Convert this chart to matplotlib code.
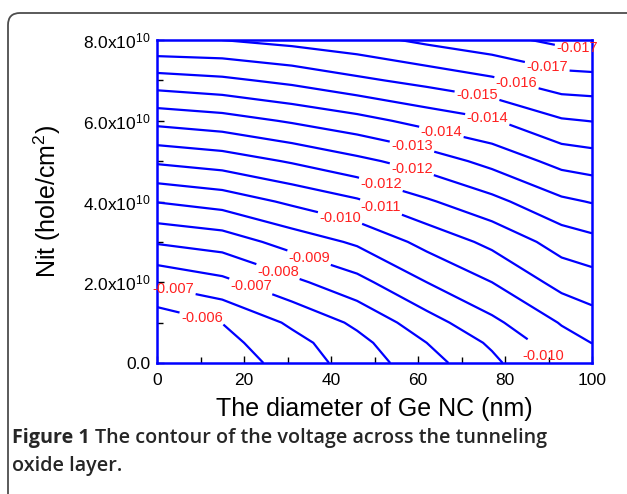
import matplotlib
matplotlib.use("Agg")
import matplotlib.pyplot as plt
from matplotlib.patches import FancyBboxPatch
from matplotlib.transforms import IdentityTransform
from matplotlib.ticker import MultipleLocator

plt.rcParams['font.family'] = ['Liberation Sans', 'DejaVu Sans']
plt.rcParams['mathtext.fontset'] = 'custom'
plt.rcParams['mathtext.rm'] = 'Liberation Sans'
plt.rcParams['mathtext.it'] = 'Liberation Sans:italic'
plt.rcParams['mathtext.bf'] = 'Liberation Sans:bold'

# Ge NC diameter (nm) and interface trap density Nit (hole/cm^2)
diameter = [0, 15, 31, 46, 62, 77, 93, 100]
nit = [0.0, 0.5e10, 1e10, 2e10, 3e10, 4e10, 5e10, 6e10, 7e10, 8e10]

# voltage across the tunneling oxide (V), one row per Nit value
voltage = [
    [-0.00467, -0.00558, -0.00629, -0.00701, -0.00783, -0.00864, -0.00968, -0.00992],
    [-0.00495, -0.00579, -0.00646, -0.00719, -0.00810, -0.00891, -0.00992, -0.01021],
    [-0.00548, -0.00601, -0.00682, -0.00754, -0.00851, -0.00934, -0.01025, -0.01060],
    [-0.00683, -0.00722, -0.00793, -0.00858, -0.00950, -0.01020, -0.01114, -0.01130],
    [-0.00817, -0.00841, -0.00909, -0.00961, -0.01042, -0.01108, -0.01189, -0.01210],
    [-0.00953, -0.00979, -0.01033, -0.01080, -0.01151, -0.01210, -0.01287, -0.01304],
    [-0.01101, -0.01123, -0.01167, -0.01213, -0.01262, -0.01322, -0.01393, -0.01406],
    [-0.01250, -0.01270, -0.01308, -0.01345, -0.01395, -0.01433, -0.01503, -0.01512],
    [-0.01409, -0.01426, -0.01457, -0.01496, -0.01532, -0.01568, -0.01620, -0.01624],
    [-0.01577, -0.01580, -0.01602, -0.01626, -0.01665, -0.01697, -0.01738, -0.01749],
]

levels = [-0.0172, -0.0165, -0.0158, -0.0151, -0.0144, -0.0137, -0.0130, -0.0123, -0.0116,
          -0.0109, -0.0102, -0.0095, -0.0088, -0.0081, -0.0074, -0.0067, -0.0060]
level_text = ['-0.017', '-0.017', '-0.016', '-0.015', '-0.014', '-0.014', '-0.013', '-0.012', '-0.012',
              '-0.011', '-0.010', '-0.010', '-0.009', '-0.008', '-0.007', '-0.007', '-0.006']

# where the labels sit (diameter, Nit/1e10)
label_x = [96.6, 89.7, 82.8, 73.6, 75.9, 65.5, 58.6, 58.6, 51.7, 51.7, 42.1, 89.7, 35.4, 27.8, 21.6, 3.9, 10.3]
label_y = [7.76, 7.34, 7.01, 6.64, 6.00, 5.78, 5.35, 4.81, 4.51, 3.92, 3.60, 0.26, 2.75, 2.26, 1.91, 1.91, 1.12]

xticks = [0, 20, 40, 60, 80, 100]
yticks = [0, 2e10, 4e10, 6e10, 8e10]
ytick_text = ['0.0', '2.0x10$^{10}$', '4.0x10$^{10}$', '6.0x10$^{10}$', '8.0x10$^{10}$']

fig = plt.figure(figsize=(6.27, 4.94), dpi=100)

# rounded frame around the figure + caption
frame = FancyBboxPatch((8, -40), 700, 521, boxstyle='round,pad=0,rounding_size=12',
                       transform=IdentityTransform(), fill=False, ec='#4d4d4d', lw=1.3)
fig.add_artist(frame)

ax = fig.add_axes([0.2504, 0.2652, 0.6938, 0.6538])
cs = ax.contour(diameter, nit, voltage, levels=levels, colors='#0000ff',
                linewidths=1.6, linestyles='solid')
ax.clabel(cs, fmt=dict(zip(levels, level_text)), inline=True, inline_spacing=2,
          fontsize=10.5, colors='#ff2020',
          manual=[(x, y * 1e10) for x, y in zip(label_x, label_y)])
for t in cs.labelTexts:
    t.set_rotation(0)
    t.set_clip_on(False)

ax.set_xlim(0, 100)
ax.set_ylim(0, 8e10)
ax.set_xticks(xticks)
ax.set_xticklabels([str(v) for v in xticks])
ax.xaxis.set_minor_locator(MultipleLocator(10))
ax.set_yticks(yticks)
ax.set_yticklabels(ytick_text)
ax.yaxis.set_minor_locator(MultipleLocator(1e10))
ax.tick_params(which='both', direction='in', color='black', width=1, labelsize=12.5)
ax.tick_params(which='major', length=5)
ax.tick_params(which='minor', length=4)
ax.tick_params(axis='x', pad=7)
ax.tick_params(axis='y', pad=5)
for sp in ax.spines.values():
    sp.set_color('#0000ff')
    sp.set_linewidth(1.8)

ax.set_xlabel('The diameter of Ge NC (nm)', fontsize=18)
ax.xaxis.set_label_coords(0.5, -0.105)
ax.set_ylabel('Nit (hole/cm$^2$)', fontsize=18)
ax.yaxis.set_label_coords(-0.215, 0.5)

# caption
fig.canvas.draw()
renderer = fig.canvas.get_renderer()
cap_font = ['Open Sans', 'DejaVu Sans']
t1 = fig.text(12 / 627, 1 - 443 / 494, 'Figure 1', fontsize=14.2, fontweight='bold',
              family=cap_font, color='#262626', va='baseline')
bb = t1.get_window_extent(renderer)
fig.text((bb.x1 + 5) / 627, 1 - 443 / 494, 'The contour of the voltage across the tunneling',
         fontsize=14.2, fontweight='semibold', family=cap_font, color='#262626', va='baseline')
fig.text(12 / 627, 1 - 471 / 494, 'oxide layer.', fontsize=14.2, fontweight='semibold',
         family=cap_font, color='#262626', va='baseline')

fig.savefig('out.png', dpi=100)
